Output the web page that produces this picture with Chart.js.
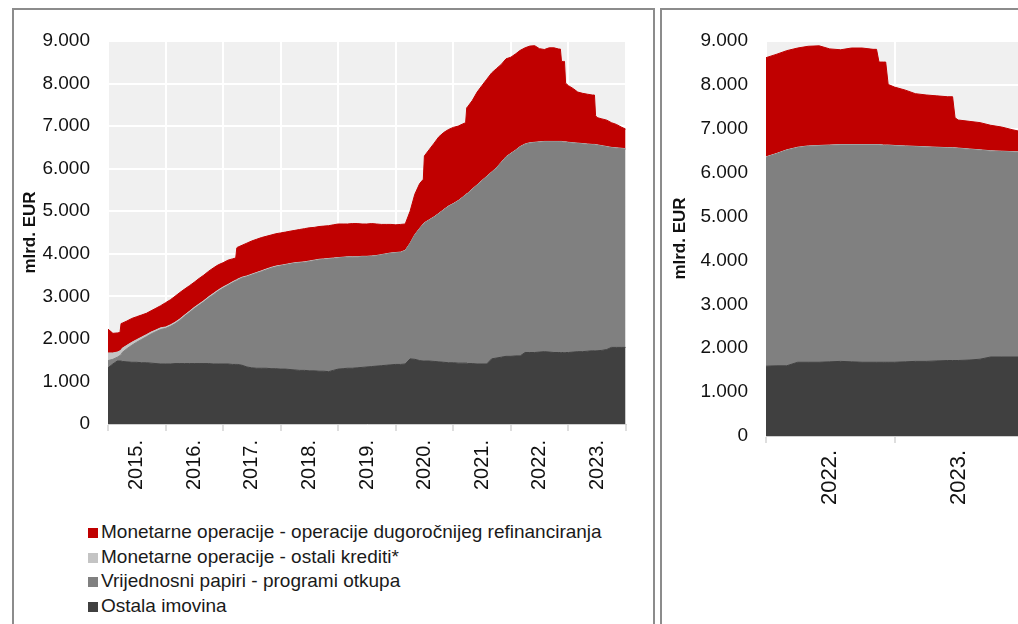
<!DOCTYPE html>
<html>
<head>
<meta charset="utf-8">
<script src="https://cdn.jsdelivr.net/npm/chart.js@4.4.1/dist/chart.umd.min.js"></script>
<style>
	body { margin: 0; width: 1018px; height: 624px; overflow: hidden; background: #fff; position: relative; font-family: 'Liberation Sans', Arial, sans-serif; }
	.panel { position: absolute; top: 8px; height: 640px; border: 2px solid #8c8c8c; border-bottom: none; box-sizing: border-box; }
	#leftPanel { left: 12px; width: 643px; }
	#rightPanel { left: 660px; width: 420px; }
	canvas { position: absolute; }
	#leftChart { left: 13px; top: 8px; }
	#rightChart { left: 662px; top: 8px; }
	#legend { position: absolute; left: 88px; top: 520px; font-size: 19px; line-height: 24.5px; color: #1a1a1a; white-space: nowrap; }
	#legend span { display: inline-block; width: 10px; height: 10px; margin-right: 3px; vertical-align: 0px; }
</style>
</head>
<body>
<div class="panel" id="leftPanel"></div>
<div class="panel" id="rightPanel"></div>
<canvas id="leftChart" width="642" height="500"></canvas>
<canvas id="rightChart" width="400" height="520"></canvas>
<div id="legend"></div>

<script>
// datumi (tjedni/mjesečni presjeci)
const dates = [
	'2015-01-01','2015-02-01','2015-03-01','2015-03-18','2015-03-25','2015-04-01','2015-05-01','2015-06-01','2015-07-01','2015-08-01','2015-09-01','2015-10-01','2015-11-01','2015-12-01',
	'2016-01-01','2016-02-01','2016-03-01','2016-04-01','2016-05-01','2016-06-01','2016-07-01','2016-08-01','2016-09-01','2016-10-01','2016-11-01','2016-12-01',
	'2017-01-01','2017-02-01','2017-03-01','2017-03-22','2017-03-29','2017-04-01','2017-05-01','2017-06-01','2017-07-01','2017-08-01','2017-09-01','2017-10-01','2017-11-01','2017-12-01',
	'2018-01-01','2018-02-01','2018-03-01','2018-04-01','2018-05-01','2018-06-01','2018-07-01','2018-08-01','2018-09-01','2018-10-01','2018-11-01','2018-12-01',
	'2019-01-01','2019-02-01','2019-03-01','2019-04-01','2019-05-01','2019-06-01','2019-07-01','2019-08-01','2019-09-01','2019-10-01','2019-11-01','2019-12-01',
	'2020-01-01','2020-02-01','2020-03-01','2020-04-01','2020-05-01','2020-06-01','2020-06-24','2020-07-01','2020-08-01','2020-09-01','2020-10-01','2020-11-01','2020-12-01',
	'2021-01-01','2021-02-01','2021-03-01','2021-03-20','2021-03-27','2021-04-01','2021-05-01','2021-06-01','2021-07-01','2021-08-01','2021-09-01','2021-10-01','2021-11-01','2021-12-01',
	'2022-01-01','2022-02-01','2022-03-01','2022-04-01','2022-05-01','2022-06-01','2022-07-01','2022-08-01','2022-09-01','2022-10-01','2022-11-01','2022-11-11','2022-11-18','2022-12-01','2022-12-07','2022-12-14',
	'2023-01-01','2023-02-01','2023-03-01','2023-04-01','2023-05-01','2023-06-01','2023-06-15','2023-06-22','2023-07-01','2023-08-01','2023-09-01','2023-10-01','2023-11-01','2023-12-01','2023-12-29'
];

// Ostala imovina (mlrd. EUR)
const ostalaImovina = [
	1320,1410,1480,1480,1480,1470,1460,1450,1450,1440,1440,1430,1420,1410,
	1410,1410,1420,1420,1420,1420,1420,1420,1420,1420,1410,1410,
	1410,1410,1400,1400,1400,1400,1380,1340,1320,1310,1310,1310,1300,1300,
	1290,1290,1280,1270,1260,1260,1250,1250,1240,1240,1230,1260,
	1290,1300,1310,1310,1320,1330,1340,1350,1360,1370,1380,1390,
	1400,1400,1410,1530,1520,1490,1480,1480,1480,1470,1460,1450,1440,
	1440,1430,1430,1430,1430,1420,1420,1410,1410,1410,1530,1550,1570,1590,
	1590,1600,1600,1680,1680,1680,1690,1700,1690,1680,1680,1680,1680,1680,1680,1680,
	1680,1690,1700,1700,1710,1720,1720,1720,1720,1730,1750,1800,1800,1800,1800
];

// Vrijednosni papiri - programi otkupa
const vrijednosniPapiri = [
	170,110,90,130,150,210,310,400,470,545,610,685,750,810,
	835,885,935,1015,1110,1200,1290,1370,1450,1540,1630,1710,
	1780,1845,1915,1955,1965,1975,2050,2120,2180,2230,2270,2310,2360,2390,
	2425,2445,2475,2505,2525,2535,2565,2585,2615,2625,2645,2625,
	2610,2610,2610,2610,2600,2600,2590,2590,2590,2600,2610,2620,
	2620,2630,2660,2710,2920,3100,3210,3240,3310,3390,3480,3580,3670,
	3730,3810,3890,3950,3970,3990,4090,4200,4300,4400,4380,4460,4570,4680,
	4760,4830,4910,4890,4920,4930,4930,4930,4940,4950,4950,4950,4950,4940,4940,4940,
	4930,4910,4890,4880,4860,4840,4840,4835,4830,4800,4760,4690,4680,4670,4660
];

// Monetarne operacije - ostali krediti*
const ostaliKrediti = [
	180,150,120,110,110,100,80,70,60,55,50,45,40,40,
	35,35,35,35,30,30,30,30,30,30,30,30,
	30,25,25,25,25,25,20,20,20,20,20,20,20,20,
	15,15,15,15,15,15,15,15,15,15,15,15,
	10,10,10,10,10,10,10,10,10,10,10,10,
	10,10,10,10,10,10,10,10,10,10,10,10,10,
	10,10,10,10,10,10,10,10,10,10,10,10,10,10,
	10,10,10,10,10,10,10,10,10,10,10,10,10,10,10,10,
	10,10,10,10,10,10,10,10,10,10,10,10,10,10,10
];

// Monetarne operacije - operacije dugoročnijeg refinanciranja
const dugorocnoRefin = [
	560,460,450,430,620,590,570,560,540,520,500,500,510,520,
	570,590,610,620,610,600,590,600,600,600,600,590,
	570,570,540,520,750,750,750,770,780,780,780,770,760,760,
	760,760,760,760,770,780,780,770,770,770,770,780,
	790,780,770,780,780,760,760,760,740,710,690,670,
	650,650,620,750,950,1050,1050,1570,1650,1730,1800,1810,1800,
	1790,1750,1720,1690,2020,2030,2080,2180,2230,2280,2330,2330,2300,2300,
	2260,2260,2260,2260,2270,2270,2190,2160,2200,2200,2170,2170,1880,1890,1890,1380,
	1330,1270,1200,1180,1170,1160,1160,685,640,630,620,580,550,500,460
];

const yearLabels = ['2015.', '2016.', '2017.', '2018.', '2019.', '2020.', '2021.', '2022.', '2023.'];
const firstYear = 2015;

const seriesNames = [
	'Ostala imovina',
	'Vrijednosni papiri - programi otkupa',
	'Monetarne operacije - ostali krediti*',
	'Monetarne operacije - operacije dugoročnijeg refinanciranja'
];
const seriesColors = ['#404040', '#808080', '#c4c4c4', '#c00000'];
const seriesValues = [ostalaImovina, vrijednosniPapiri, ostaliKrediti, dugorocnoRefin];

Chart.defaults.font.family = "'Liberation Sans', Arial, sans-serif";
Chart.defaults.color = '#111';

// datum -> decimalna godina
function toYear(s) {
	const [y, m, d] = s.split('-').map(Number);
	const start = Date.UTC(y, 0, 1);
	const end = Date.UTC(y + 1, 0, 1);
	return y + (Date.UTC(y, m - 1, d) - start) / (end - start);
}

const plotBackground = {
	id: 'plotBackground',
	beforeDraw(chart) {
		const { ctx, chartArea: a } = chart;
		ctx.save();
		ctx.fillStyle = '#f0f0f0';
		ctx.fillRect(a.left, a.top, a.width, a.height);
		ctx.restore();
	}
};

function isYearTick(c) {
	return c.tick && Number.isInteger(c.tick.value);
}

function buildChart(canvasId, fromYear, toYearEnd, opts) {
	const idx = [];
	dates.forEach((d, i) => { if (toYear(d) >= fromYear) idx.push(i); });

	const datasets = seriesValues.map((vals, s) => ({
		label: seriesNames[s],
		data: idx.map(i => ({ x: toYear(dates[i]), y: vals[i] })),
		backgroundColor: seriesColors[s],
		borderColor: seriesColors[s],
		borderWidth: 1,
		pointRadius: 0,
		fill: s === 0 ? 'origin' : '-1',
		tension: 0
	}));

	return new Chart(document.getElementById(canvasId), {
		type: 'line',
		data: { datasets: datasets },
		plugins: [plotBackground],
		options: {
			responsive: false,
			animation: false,
			layout: { padding: opts.padding },
			plugins: { legend: { display: false }, tooltip: { enabled: false } },
			scales: {
				x: {
					type: 'linear',
					min: fromYear,
					max: toYearEnd,
					afterBuildTicks: axis => {
						const ticks = [];
						for (let y = fromYear; y <= toYearEnd; y++) {
							ticks.push({ value: y });
							if (y < toYearEnd) ticks.push({ value: y + 0.5 });
						}
						axis.ticks = ticks;
					},
					afterFit: axis => {
						axis.height = opts.xHeight;
						axis.paddingLeft = 0;
						axis.paddingRight = 0;
					},
					grid: {
						color: c => isYearTick(c) ? '#ffffff' : 'rgba(0,0,0,0)',
						lineWidth: 2,
						drawTicks: true,
						tickLength: 7,
						tickWidth: 1,
						tickColor: c => isYearTick(c) ? '#bdbdbd' : 'rgba(0,0,0,0)'
					},
					border: { display: true, color: '#cfcfcf', width: 1 },
					ticks: {
						autoSkip: false,
						minRotation: 90,
						maxRotation: 90,
						padding: opts.xPad,
						font: { size: opts.xFont },
						callback: v => Number.isInteger(v) ? '' : yearLabels[Math.floor(v) - firstYear]
					}
				},
				y: {
					stacked: true,
					min: 0,
					max: 9000,
					afterFit: axis => { axis.width = opts.yWidth; },
					grid: { color: '#ffffff', lineWidth: 2, drawTicks: false },
					border: { display: false },
					ticks: {
						stepSize: 1000,
						padding: 18,
						font: { size: 19 },
						callback: v => v === 0 ? '0' : (v / 1000) + '.000'
					},
					title: {
						display: true,
						text: 'mlrd. EUR',
						font: { size: 17, weight: 'bold' },
						padding: { top: opts.titlePad, bottom: 0 }
					}
				}
			}
		}
	});
}

buildChart('leftChart', 2015, 2024, { padding: { top: 33, right: 29, left: 0, bottom: 0 }, xHeight: 84, yWidth: 95, xPad: 9, xFont: 20, titlePad: 7 });
buildChart('rightChart', 2022, 2024, { padding: { top: 33, right: 39, left: 0, bottom: 0 }, xHeight: 92, yWidth: 104, xPad: 7, xFont: 22, titlePad: 8 });

// legenda (redoslijed kao u izvorniku)
const legend = document.getElementById('legend');
[3, 2, 1, 0].forEach(s => {
	const row = document.createElement('div');
	row.innerHTML = `<span style="background:${seriesColors[s]}"></span>${seriesNames[s]}`;
	legend.appendChild(row);
});
</script>
</body>
</html>
